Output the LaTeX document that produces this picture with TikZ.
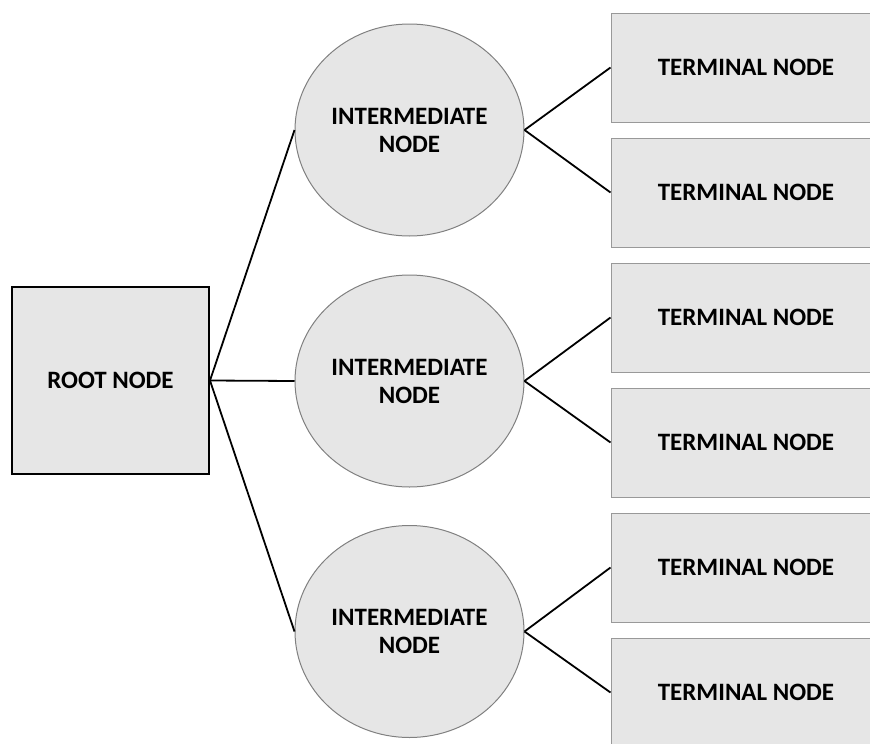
\documentclass[tikz,border=0pt]{standalone}
\usepackage{fontspec}
\setmainfont{Carlito}
\usetikzlibrary{shapes.geometric}
\definecolor{boxfill}{RGB}{230,230,230}
\definecolor{rimgray}{RGB}{128,128,128}
\tikzset{
  rootbox/.style={draw=black, line width=2pt, fill=boxfill, rectangle, minimum width=197pt, minimum height=187pt, inner sep=0pt},
  midnode/.style={draw=rimgray, line width=1pt, fill=boxfill, ellipse, minimum width=229pt, minimum height=212pt, inner sep=0pt, align=center},
  termbox/.style={draw=rimgray!80, line width=1pt, fill=boxfill, rectangle, minimum width=270pt, minimum height=109pt, inner sep=0pt},
  txt/.style={font=\fontsize{25}{28}\selectfont\bfseries},
  link/.style={draw=black, line width=1.8pt}
}
\begin{document}
\begin{tikzpicture}[x=1pt,y=-1pt]
\useasboundingbox (0,0) rectangle (870,744);
\node[rootbox, txt] (root) at (110.5,380.5) {ROOT NODE};
\node[midnode, txt] (m1) at (409.5,130) {INTERMEDIATE\\NODE};
\node[midnode, txt] (m2) at (409.5,381) {INTERMEDIATE\\NODE};
\node[midnode, txt] (m3) at (409.5,631.5) {INTERMEDIATE\\NODE};
\node[termbox, txt] (t1) at (746,67.5) {TERMINAL NODE};
\node[termbox, txt] (t2) at (746,192.5) {TERMINAL NODE};
\node[termbox, txt] (t3) at (746,317.5) {TERMINAL NODE};
\node[termbox, txt] (t4) at (746,442.5) {TERMINAL NODE};
\node[termbox, txt] (t5) at (746,567.5) {TERMINAL NODE};
\node[termbox, txt] (t6) at (746,692.5) {TERMINAL NODE};
\draw[link] (root.east) -- (m1.west);
\draw[link] (root.east) -- (m2.west);
\draw[link] (root.east) -- (m3.west);
\draw[link] (m1.east) -- (t1.west);
\draw[link] (m1.east) -- (t2.west);
\draw[link] (m2.east) -- (t3.west);
\draw[link] (m2.east) -- (t4.west);
\draw[link] (m3.east) -- (t5.west);
\draw[link] (m3.east) -- (t6.west);
\end{tikzpicture}
\end{document}
